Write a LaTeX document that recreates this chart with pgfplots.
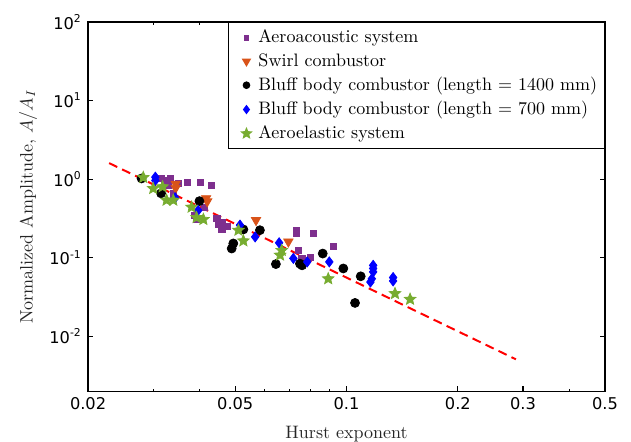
\documentclass[border=0pt]{standalone}
\usepackage{fontspec}
\usepackage{pgfplots}
\pgfplotsset{compat=1.18}
\newfontfamily\dejavu{DejaVu Sans}
\definecolor{aeroac}{RGB}{126,47,142}
\definecolor{swirl}{RGB}{217,83,25}
\definecolor{aeroel}{RGB}{119,172,48}
\definecolor{bluff}{RGB}{0,0,255}

% filled five-pointed star
\pgfdeclareplotmark{fstar}{%
  \pgfpathmoveto{\pgfpointpolar{90}{\pgfplotmarksize}}%
  \pgfpathlineto{\pgfpointpolar{126}{0.45\pgfplotmarksize}}%
  \pgfpathlineto{\pgfpointpolar{162}{\pgfplotmarksize}}%
  \pgfpathlineto{\pgfpointpolar{198}{0.45\pgfplotmarksize}}%
  \pgfpathlineto{\pgfpointpolar{234}{\pgfplotmarksize}}%
  \pgfpathlineto{\pgfpointpolar{270}{0.45\pgfplotmarksize}}%
  \pgfpathlineto{\pgfpointpolar{306}{\pgfplotmarksize}}%
  \pgfpathlineto{\pgfpointpolar{342}{0.45\pgfplotmarksize}}%
  \pgfpathlineto{\pgfpointpolar{18}{\pgfplotmarksize}}%
  \pgfpathlineto{\pgfpointpolar{54}{0.45\pgfplotmarksize}}%
  \pgfpathclose
  \pgfusepathqfillstroke
}

% one small mark per legend row, with room before the text
\pgfplotsset{smallleg/.style={only marks,
  legend image code/.code={\path (0cm,0cm) (0.42cm,0cm);
    \draw[##1] plot coordinates {(0.27cm,0cm)};}}}

\begin{document}
\begin{tikzpicture}
\begin{axis}[
  xmode=log, ymode=log,
  scale only axis, width=287pt, height=205pt,
  xmin=0.02, xmax=0.5, ymin=0.002, ymax=100,
  xtick={0.02,0.05,0.1,0.2,0.3,0.5},
  xticklabels={0.02,0.05,0.1,0.2,0.3,0.5},
  minor xtick={0.03,0.04,0.06,0.07,0.08,0.09,0.4},
  ytick={0.01,0.1,1,10,100},
  yticklabels={10\textsuperscript{-2},10\textsuperscript{-1},10\textsuperscript{0},10\textsuperscript{1},10\textsuperscript{2}},
  yminorticks=false,
  tick label style={font=\dejavu\small},
  major tick length=3pt, minor tick length=1.5pt,
  axis line style={line width=0.8pt},
  every tick/.style={black, line width=0.6pt},
  xlabel={Hurst exponent},
  ylabel={Normalized Amplitude, $A/A_I$},
  label style={black!85},
  xlabel style={yshift=-2pt},
  legend style={at={(1,1)}, anchor=north east, draw=black, line width=0.8pt,
    font=\normalsize, row sep=0.5pt, inner xsep=2pt, inner ysep=2pt},
  legend cell align=left,
]

\addplot[only marks, mark=square*, color=aeroac, mark size=1.7pt, forget plot] coordinates {
  (0.0316,1.02) (0.0333,1.02) (0.0322,0.97) (0.0329,0.84) (0.0351,0.88)
  (0.0371,0.92) (0.0403,0.91) (0.0432,0.84) (0.0340,0.65) (0.0389,0.35)
  (0.0393,0.31) (0.0412,0.44) (0.0446,0.315) (0.0450,0.27) (0.0460,0.23)
  (0.0475,0.25) (0.0462,0.28) (0.0733,0.225) (0.0733,0.205) (0.0813,0.203)
  (0.0921,0.14) (0.0741,0.125) (0.0797,0.10) (0.0757,0.097)
};
\addlegendimage{smallleg, mark=square*, color=aeroac, mark size=1.2pt}
\addlegendentry{Aeroacoustic system}

\addplot[only marks, mark=triangle*, mark options={rotate=180}, color=swirl, mark size=3pt, forget plot] coordinates {
  (0.0345,0.87) (0.0345,0.77) (0.0417,0.57) (0.0420,0.52) (0.0569,0.30) (0.0696,0.16)
};
\addlegendimage{smallleg, mark=triangle*, mark options={rotate=180}, color=swirl, mark size=2.3pt}
\addlegendentry{Swirl combustor}

\addplot[only marks, mark=*, color=black, mark size=2.5pt, forget plot] coordinates {
  (0.0279,1.02) (0.0315,0.66) (0.0400,0.525) (0.0489,0.131) (0.0494,0.152)
  (0.0526,0.229) (0.0583,0.224) (0.0644,0.083) (0.0748,0.084) (0.0758,0.080)
  (0.0862,0.113) (0.098,0.073) (0.1092,0.058) (0.1054,0.0266)
};
\addlegendimage{smallleg, mark=*, color=black, mark size=1.7pt}
\addlegendentry{Bluff body combustor (length = 1400 mm)}

\addplot[only marks, mark=diamond*, color=bluff, mark size=2.8pt, forget plot] coordinates {
  (0.0304,1.06) (0.0304,0.96) (0.0344,0.58) (0.0397,0.40) (0.0515,0.26)
  (0.0566,0.184) (0.0657,0.155) (0.0718,0.098) (0.0783,0.0885) (0.0898,0.0885)
  (0.118,0.080) (0.118,0.073) (0.118,0.066) (0.117,0.054) (0.116,0.049)
  (0.1336,0.056) (0.1336,0.0506)
};
\addlegendimage{smallleg, mark=diamond*, color=bluff, mark size=2pt}
\addlegendentry{Bluff body combustor (length = 700 mm)}

\addplot[only marks, mark=fstar, color=aeroel, mark size=3.4pt, forget plot] coordinates {
  (0.0282,1.05) (0.0300,0.76) (0.0318,0.80) (0.0326,0.54) (0.0340,0.54)
  (0.0381,0.44) (0.0393,0.325) (0.0410,0.307) (0.0510,0.224) (0.0526,0.164)
  (0.0661,0.108) (0.0668,0.124) (0.0892,0.054) (0.1352,0.035) (0.1485,0.0296)
};
\addlegendimage{smallleg, mark=fstar, color=aeroel, mark size=2.6pt}
\addlegendentry{Aeroelastic system}

\addplot[red, line width=1.1pt, dash pattern=on 5pt off 3pt, forget plot] coordinates {
  (0.0228,1.6) (0.287,0.0051)
};
\end{axis}
\pgfresetboundingbox
\path ([xshift=-48.9pt,yshift=-27.8pt]current axis.south west) rectangle ([xshift=14.4pt,yshift=12.2pt]current axis.north east);
\end{tikzpicture}
\end{document}
